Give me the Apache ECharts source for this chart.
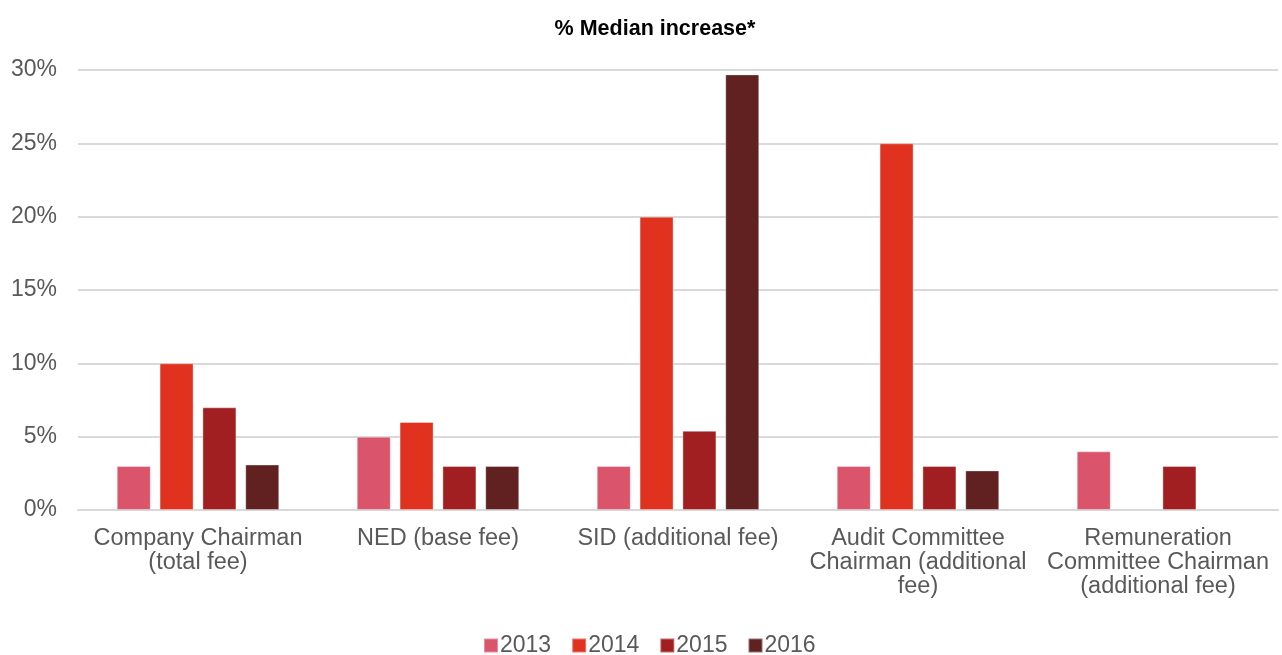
<!DOCTYPE html>
<html>
<head>
<meta charset="utf-8">
<script src="https://cdn.jsdelivr.net/npm/echarts@6/dist/echarts.min.js"></script>
<style>
  html, body { margin: 0; padding: 0; background: #fff; }
  #chart { width: 1282px; height: 655px; }
</style>
</head>
<body>
<div id="chart"></div>
<script>
// Fee roles (line breaks as they wrap under the axis)
const categories = [
  'Company Chairman\n(total fee)',
  'NED (base fee)',
  'SID (additional fee)',
  'Audit Committee\nChairman (additional\nfee)',
  'Remuneration\nCommittee Chairman\n(additional fee)'
];
const years = ['2013', '2014', '2015', '2016'];

// Median increase, in percent
const values2013 = [3, 5, 3, 3, 4];
const values2014 = [10, 6, 20, 25, null];
const values2015 = [7, 3, 5.4, 3, 3];
const values2016 = [3.1, 3, 29.7, 2.7, null];

const yTicks = { min: 0, max: 30, interval: 5 };

const colors = ['#DA546C', '#E0321F', '#A21F21', '#612120'];
const seriesValues = [values2013, values2014, values2015, values2016];

const chart = echarts.init(document.getElementById('chart'));
chart.setOption({
  animation: false,
  textStyle: { fontFamily: 'Liberation Sans, Arial, sans-serif' },
  title: {
    text: '% Median increase*',
    left: 650,
    top: 13,
    textAlign: 'center',
    textStyle: { fontSize: 21.5, fontWeight: 'bold', color: '#000' }
  },
  legend: {
    data: years,
    top: 629,
    left: 478,
    itemWidth: 14,
    itemHeight: 14,
    itemGap: 20,
    icon: 'rect',
    textStyle: { fontSize: 23, color: '#595959', padding: [0, 0, 0, -3] }
  },
  grid: { left: 78, right: 4, top: 70, bottom: 145 },
  xAxis: {
    type: 'category',
    data: categories,
    axisLine: { lineStyle: { color: '#D9D9D9', width: 2 } },
    axisTick: { show: false },
    axisLabel: {
      fontSize: 23.5,
      color: '#595959',
      margin: 17,
      lineHeight: 24,
      interval: 0
    }
  },
  yAxis: {
    type: 'value',
    min: yTicks.min,
    max: yTicks.max,
    interval: yTicks.interval,
    axisLine: { show: false },
    axisTick: { show: false },
    splitLine: { lineStyle: { color: '#D9D9D9', width: 2 } },
    axisLabel: {
      fontSize: 23,
      color: '#595959',
      margin: 21,
      formatter: v => v + '%'
    }
  },
  series: years.map((y, i) => ({
    name: y,
    type: 'bar',
    data: seriesValues[i],
    barWidth: 34,
    barGap: '26%',
    itemStyle: { color: colors[i], borderColor: 'rgba(255,255,255,0.35)', borderWidth: 1 }
  }))
});
</script>
</body>
</html>
